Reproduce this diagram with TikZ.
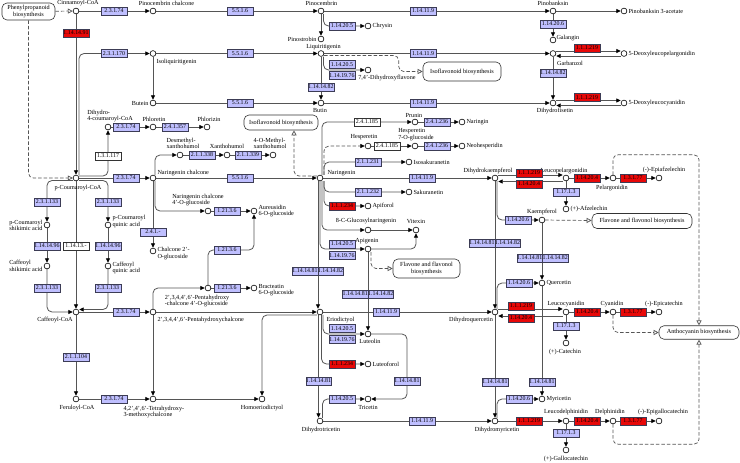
\documentclass[tikz,border=0pt]{standalone}
\usepackage{fontspec}
\setmainfont{Liberation Serif}
\usepackage{tikz}
\usetikzlibrary{arrows.meta,calc,backgrounds}
\definecolor{kgblue}{RGB}{191,191,255}
\definecolor{kgred}{RGB}{232,8,8}
\definecolor{kgline}{RGB}{85,85,85}
\definecolor{kgedge}{RGB}{60,60,85}
\newcommand{\cpdfont}{\fontsize{6.2}{6.6}\selectfont}
\newcommand{\ecfont}{\fontsize{5.9}{6}\selectfont}

\begin{document}
\begin{tikzpicture}[x=1pt,y=-1pt,font=\cpdfont,
    cpd/.style={circle,draw=black,fill=white,line width=0.6pt,inner sep=0pt,minimum size=5.8pt},
    ec/.style={rectangle,draw=kgedge,fill=kgblue,line width=0.5pt,minimum width=25.5pt,minimum height=8pt,inner sep=0pt,font=\ecfont},
    ecr/.style={ec,fill=kgred,text=black},
    ecw/.style={ec,fill=white,draw=black!80},
    pmap/.style={rectangle,draw=black!80,fill=white,rounded corners=5pt,line width=0.6pt,inner sep=1pt,align=center},
    txt/.style={inner sep=0.3pt,align=left},
    rx/.style={draw=kgline,line width=0.8pt,rounded corners=5pt,-{Triangle[length=4.5pt,width=4pt,color=black]}},
    lnk/.style={draw=kgline,line width=0.7pt,rounded corners=5pt,dash pattern=on 3.5pt off 2pt,-{Triangle[open,length=5pt,width=5pt,fill=white,color=kgline]}},
    lnkf/.style={lnk,-{Triangle[length=4.5pt,width=4pt,color=black]}}]
    \useasboundingbox (0,0) rectangle (740,463);

    \node[pmap,minimum width=53pt,minimum height=17pt] (phe) at (28.5,11.5) {Phenylpropanoid\\biosynthesis};
    \node[pmap,minimum width=78pt,minimum height=19pt] (iso1) at (462,71.5) {Isoflavonoid biosynthesis};
    \node[pmap,minimum width=74pt,minimum height=15pt] (iso2) at (281,122.5) {Isoflavonoid biosynthesis};
    \node[pmap,minimum width=67pt,minimum height=19pt] (fla1) at (426.5,268.5) {Flavone and flavonol\\biosynthesis};
    \node[pmap,minimum width=100pt,minimum height=15pt] (fla2) at (642,221) {Flavone and flavonol biosynthesis};
    \node[pmap,minimum width=80pt,minimum height=13.5pt] (antho) at (699,332.5) {Anthocyanin biosynthesis};

    \node[cpd] (cinn) at (76,11) {};
    \node[cpd] (pcc) at (153,11) {};
    \node[cpd] (pinoc) at (321,11) {};
    \node[cpd] (pinob) at (553,11) {};
    \node[cpd] (pinob3a) at (624,11) {};
    \node[cpd] (galangin) at (553,40) {};
    \node[cpd] (chrysin) at (368,26) {};
    \node[cpd] (pinost) at (321,39) {};
    \node[cpd] (isoliq) at (153,53.5) {};
    \node[cpd] (liq) at (321,53.5) {};
    \node[cpd] (garb) at (553,53.5) {};
    \node[cpd] (dlp) at (624,53.5) {};
    \node[cpd] (dhf74) at (368,70) {};
    \node[cpd] (butein) at (153,103) {};
    \node[cpd] (butin) at (321,103) {};
    \node[cpd] (dhfis) at (553,103) {};
    \node[cpd] (dlc) at (624,103) {};
    \node[cpd] (dh4c) at (108,127) {};
    \node[cpd] (phloretin) at (153,127) {};
    \node[cpd] (phlorizin) at (207,127) {};
    \node[cpd] (desm) at (180,155) {};
    \node[cpd] (xanth) at (227,155) {};
    \node[cpd] (mxanth) at (273,155) {};
    \node[cpd] (pcoa) at (76,178) {};
    \node[cpd] (ngc) at (153,178) {};
    \node[cpd] (ng) at (320,178) {};
    \node[cpd] (ngc4g) at (208,211) {};
    \node[cpd] (aure) at (254,211) {};
    \node[cpd] (ch2g) at (153,251) {};
    \node[cpd] (pcsa) at (47,225) {};
    \node[cpd] (pcqa) at (108,225) {};
    \node[cpd] (cfsa) at (47,266) {};
    \node[cpd] (cfqa) at (108,266) {};
    \node[cpd] (pentg) at (208,288) {};
    \node[cpd] (bract) at (254,288) {};
    \node[cpd] (cfcoa) at (76,312) {};
    \node[cpd] (pent) at (153,312) {};
    \node[cpd] (erio) at (320,312) {};
    \node[cpd] (fercoa) at (76,399) {};
    \node[cpd] (tetra) at (153,399) {};
    \node[cpd] (homo) at (262,399) {};
    \node[cpd] (prunin) at (415,122) {};
    \node[cpd] (naringin) at (462,122) {};
    \node[cpd] (hesp) at (368,146) {};
    \node[cpd] (hesp7) at (415,146) {};
    \node[cpd] (neohesp) at (462,146) {};
    \node[cpd] (isosak) at (409,162) {};
    \node[cpd] (dhk) at (495,178) {};
    \node[cpd] (sakur) at (409,192) {};
    \node[cpd] (apif) at (368,206) {};
    \node[cpd] (cgn) at (368,230) {};
    \node[cpd] (vitexin) at (416,230) {};
    \node[cpd] (apig) at (368,249) {};
    \node[cpd] (lut) at (368,334) {};
    \node[cpd] (luteof) at (368,364) {};
    \node[cpd] (tric) at (368,399) {};
    \node[cpd] (dhtric) at (320,421) {};
    \node[cpd] (dhq) at (495,312) {};
    \node[cpd] (dhm) at (495,421) {};
    \node[cpd] (lpg) at (566,178) {};
    \node[cpd] (pelarg) at (613,178) {};
    \node[cpd] (epiaf) at (659,178) {};
    \node[cpd] (afz) at (566,209) {};
    \node[cpd] (kaemp) at (542,220) {};
    \node[cpd] (querc) at (542,283) {};
    \node[cpd] (myr) at (542,399) {};
    \node[cpd] (lcy) at (566,312) {};
    \node[cpd] (cyan) at (613,312) {};
    \node[cpd] (epicat) at (659,312) {};
    \node[cpd] (cat) at (566,343) {};
    \node[cpd] (ldp) at (566,421) {};
    \node[cpd] (delph) at (613,421) {};
    \node[cpd] (epigal) at (659,421) {};
    \node[cpd] (gal) at (566,450) {};

    \node[txt] (t-cinn) at (78,3.5) {Cinnamoyl-CoA};
    \node[txt] (t-pcc) at (166.5,3.5) {Pinocembrin chalcone};
    \node[txt] (t-pinoc) at (321.5,3.5) {Pinocembrin};
    \node[txt] (t-pinob) at (553,3.5) {Pinobanksin};
    \node[txt,anchor=west] (t-pinob3a) at (628,11) {Pinobanksin 3-acetate};
    \node[txt,anchor=west] (t-galangin) at (556,38.5) {Galangin};
    \node[txt,anchor=west] (t-chrysin) at (372,26) {Chrysin};
    \node[txt,anchor=east] (t-pinost) at (317,39) {Pinostrobin};
    \node[txt] (t-isoliq) at (176.5,62) {Isoliquiritigenin};
    \node[txt] (t-liq) at (323.5,47.5) {Liquiritigenin};
    \node[txt] (t-garb) at (570,63) {Garbanzol};
    \node[txt,anchor=west] (t-dlp) at (628,54) {5-Deoxyleucopelargonidin};
    \node[txt] (t-dhf74) at (387,77.5) {7,4'-Dihydroxyflavone};
    \node[txt,anchor=east] (t-butein) at (149,103) {Butein};
    \node[txt] (t-butin) at (320,110.5) {Butin};
    \node[txt] (t-dhfis) at (555,110.5) {Dihydrofisetin};
    \node[txt,anchor=west] (t-dlc) at (628,103) {5-Deoxyleucocyanidin};
    \node[txt] (t-dh4c) at (110,116) {Dihydro-\\4-coumaroyl-CoA};
    \node[txt] (t-phloretin) at (154,119.5) {Phloretin};
    \node[txt] (t-phlorizin) at (209,119.5) {Phlorizin};
    \node[txt] (t-desm) at (183,143.5) {Desmethyl-\\xanthohumol};
    \node[txt] (t-xanth) at (227,146.5) {Xanthohumol};
    \node[txt] (t-mxanth) at (270,143.5) {4-O-Methyl-\\xanthohumol};
    \node[txt] (t-pcoa) at (78,188) {p-Coumaroyl-CoA};
    \node[txt,anchor=west] (t-ngc) at (157,173) {Naringenin chalcone};
    \node[txt,anchor=west] (t-ng) at (327,173.5) {Naringenin};
    \node[txt] (t-ngc4g) at (198,200) {Naringenin chalcone\\4'-O-glucoside};
    \node[txt,anchor=west] (t-aure) at (258,211) {Aureusidin\\6-O-glucoside};
    \node[txt,anchor=west] (t-ch2g) at (157,253.5) {Chalcone 2'-\\O-glucoside};
    \node[txt,anchor=east] (t-pcsa) at (43,225.5) {p-Coumaroyl\\shikimic acid};
    \node[txt,anchor=west] (t-pcqa) at (112,221.5) {p-Coumaroyl\\quinic acid};
    \node[txt,anchor=east] (t-cfsa) at (43,266) {Caffeoyl\\shikimic acid};
    \node[txt,anchor=west] (t-cfqa) at (112,268) {Caffeoyl\\quinic acid};
    \node[txt] (t-pentg) at (197,301) {2',3,4,4',6'-Pentahydroxy\\-chalcone 4'-O-glucoside};
    \node[txt,anchor=west] (t-bract) at (258,290) {Bracteatin\\6-O-glucoside};
    \node[txt] (t-cfcoa) at (55,320) {Caffeoyl-CoA};
    \node[txt,anchor=west] (t-pent) at (157,320) {2',3,4,4',6'-Pentahydroxychalcone};
    \node[txt,anchor=west] (t-erio) at (326,320) {Eriodictyol};
    \node[txt] (t-fercoa) at (77,408.5) {Feruloyl-CoA};
    \node[txt,anchor=west] (t-tetra) at (123,412) {4,2',4',6'-Tetrahydroxy-\\3-methoxychalcone};
    \node[txt] (t-homo) at (262,408.5) {Homoeriodictyol};
    \node[txt] (t-prunin) at (414,115) {Prunin};
    \node[txt,anchor=west] (t-naringin) at (466,122) {Naringin};
    \node[txt] (t-hesp) at (364,137.5) {Hesperetin};
    \node[txt] (t-hesp7) at (416,134.5) {Hesperetin\\7-O-glucoside};
    \node[txt,anchor=west] (t-neohesp) at (466,146) {Neohesperidin};
    \node[txt,anchor=west] (t-isosak) at (413,162) {Isosakuranetin};
    \node[txt] (t-dhk) at (488,171) {Dihydrokaempferol};
    \node[txt,anchor=west] (t-sakur) at (413,192) {Sakuranetin};
    \node[txt,anchor=west] (t-apif) at (372,206) {Apiforol};
    \node[txt] (t-cgn) at (366,221) {8-C-Glucosylnaringenin};
    \node[txt] (t-vitexin) at (416,221) {Vitexin};
    \node[txt] (t-apig) at (367,241.5) {Apigenin};
    \node[txt] (t-lut) at (370,341.5) {Luteolin};
    \node[txt,anchor=west] (t-luteof) at (372,364) {Luteoforol};
    \node[txt] (t-tric) at (368,407.5) {Tricetin};
    \node[txt] (t-dhtric) at (321,430.5) {Dihydrotricetin};
    \node[txt] (t-dhq) at (471,320) {Dihydroquercetin};
    \node[txt] (t-dhm) at (497,430.5) {Dihydromyricetin};
    \node[txt] (t-lpg) at (564,171) {Leucopelargonidin};
    \node[txt] (t-pelarg) at (612,188) {Pelargonidin};
    \node[txt] (t-epiaf) at (664,170) {(-)-Epiafzelechin};
    \node[txt,anchor=west] (t-afz) at (570,209) {(+)-Afzelechin};
    \node[txt] (t-kaemp) at (542,212) {Kaempferol};
    \node[txt,anchor=west] (t-querc) at (546,283) {Quercetin};
    \node[txt,anchor=west] (t-myr) at (546,399) {Myricetin};
    \node[txt] (t-lcy) at (566,304.5) {Leucocyanidin};
    \node[txt] (t-cyan) at (612,304.5) {Cyanidin};
    \node[txt] (t-epicat) at (664,304.5) {(-)-Epicatechin};
    \node[txt] (t-cat) at (565,352.5) {(+)-Catechin};
    \node[txt] (t-ldp) at (566,412.5) {Leucodelphinidin};
    \node[txt] (t-delph) at (610,412.5) {Delphinidin};
    \node[txt] (t-epigal) at (663,412.5) {(-)-Epigallocatechin};
    \node[txt] (t-gal) at (566,459) {(+)-Gallocatechin};

    \node[ecr] (e1) at (76,33) {1.14.14.91};
    \node[ec] (e2) at (114,11) {2.3.1.74};
    \node[ec] (e3) at (240,11) {5.5.1.6};
    \node[ec] (e4) at (423,11) {1.14.11.9};
    \node[ec] (e5) at (553,24) {1.14.20.6};
    \node[ec] (e6) at (342,26) {1.14.20.5};
    \node[ec] (e7) at (114,53.5) {2.3.1.170};
    \node[ec] (e8) at (240,53.5) {5.5.1.6};
    \node[ec] (e9) at (423,53.5) {1.14.11.9};
    \node[ec] (e10) at (342,64.5) {1.14.20.5};
    \node[ec] (e11) at (342,75.5) {1.14.19.76};
    \node[ec] (e12) at (321,87) {1.14.14.82};
    \node[ec] (e13) at (553,73) {1.14.14.82};
    \node[ecr] (e14) at (587,48) {1.1.1.219};
    \node[ec] (e15) at (240,103) {5.5.1.6};
    \node[ec] (e16) at (423,103) {1.14.11.9};
    \node[ecr] (e17) at (587,97.5) {1.1.1.219};
    \node[ec] (e18) at (126,127) {2.3.1.74};
    \node[ec] (e19) at (175,127) {2.4.1.357};
    \node[ecw] (e20) at (108,156) {1.3.1.117};
    \node[ec] (e21) at (202,155) {2.1.1.338};
    \node[ec] (e22) at (248,155) {2.1.1.339};
    \node[ec] (e23) at (126,178) {2.3.1.74};
    \node[ec] (e24) at (240,178) {5.5.1.6};
    \node[ec] (e25) at (47,202) {2.3.1.133};
    \node[ec] (e26) at (108,202) {2.3.1.133};
    \node[ec] (e27) at (47,246) {1.14.14.96};
    \node[ecw] (e28) at (76,246) {1.14.13.-};
    \node[ec] (e29) at (108,246) {1.14.14.96};
    \node[ec] (e30) at (47,288) {2.3.1.133};
    \node[ec] (e31) at (108,288) {2.3.1.133};
    \node[ec] (e32) at (227,211) {1.21.3.6};
    \node[ec] (e33) at (153,232) {2.4.1.-};
    \node[ec] (e34) at (227,250) {1.21.3.6};
    \node[ec] (e35) at (227,288) {1.21.3.6};
    \node[ec] (e36) at (126,312) {2.3.1.74};
    \node[ec] (e37) at (76,357) {2.1.1.104};
    \node[ec] (e38) at (114,399) {2.3.1.74};
    \node[ecw] (e39) at (367,122) {2.4.1.185};
    \node[ec] (e40) at (437,122) {2.4.1.236};
    \node[ecw] (e41) at (387,146) {2.4.1.185};
    \node[ec] (e42) at (437,146) {2.4.1.236};
    \node[ec] (e43) at (368,162) {2.1.1.231};
    \node[ec] (e44) at (422,178) {1.14.11.9};
    \node[ec] (e45) at (368,192) {2.1.1.232};
    \node[ecr] (e46) at (342,206) {1.1.1.234};
    \node[ec] (e47) at (342,244) {1.14.20.5};
    \node[ec] (e48) at (342,255.5) {1.14.19.76};
    \node[ec] (e49) at (305,271) {1.14.14.81};
    \node[ec] (e50) at (330.5,271) {1.14.14.82};
    \node[ec] (e51) at (355.25,294) {1.14.14.81};
    \node[ec] (e52) at (380.75,294) {1.14.14.82};
    \node[ec] (e53) at (482,243) {1.14.14.81};
    \node[ec] (e54) at (507.5,243) {1.14.14.82};
    \node[ec] (e55) at (386,312) {1.14.11.9};
    \node[ec] (e56) at (342,328.5) {1.14.20.5};
    \node[ec] (e57) at (342,339.5) {1.14.19.76};
    \node[ecr] (e58) at (342,364) {1.1.1.234};
    \node[ec] (e59) at (407,381) {1.14.14.81};
    \node[ec] (e60) at (318.5,381) {1.14.14.81};
    \node[ec] (e61) at (342,399) {1.14.20.5};
    \node[ec] (e62) at (422,421) {1.14.11.9};
    \node[ecr] (e63) at (529,173) {1.1.1.219};
    \node[ecr] (e64) at (529,184) {1.14.20.4};
    \node[ecr] (e65) at (587,178) {1.14.20.4};
    \node[ecr] (e66) at (633,178) {1.3.1.77};
    \node[ec] (e67) at (566,192) {1.17.1.3};
    \node[ec] (e68) at (518,220) {1.14.20.6};
    \node[ec] (e69) at (529.75,258) {1.14.14.81};
    \node[ec] (e70) at (555.25,258) {1.14.14.82};
    \node[ec] (e71) at (519,283) {1.14.20.6};
    \node[ecr] (e72) at (521,306) {1.1.1.219};
    \node[ecr] (e73) at (521,318) {1.14.20.4};
    \node[ecr] (e74) at (587,312) {1.14.20.4};
    \node[ecr] (e75) at (633,312) {1.3.1.77};
    \node[ec] (e76) at (566,326) {1.17.1.3};
    \node[ec] (e77) at (495,382) {1.14.14.81};
    \node[ec] (e78) at (542,382) {1.14.14.81};
    \node[ec] (e79) at (519,399) {1.14.20.6};
    \node[ecr] (e80) at (529,421) {1.1.1.219};
    \node[ecr] (e81) at (587,421) {1.14.20.4};
    \node[ecr] (e82) at (633,421) {1.3.1.77};
    \node[ec] (e83) at (566,433) {1.17.1.3};

    \begin{scope}[on background layer]
    \fill[white] (0,0) rectangle (740,463);
    \draw[lnk] (phe) -- (cinn);
    \draw[lnk] (phe.south) |- (pcoa);
    \draw[lnk] ([yshift=-2pt]liq.east) -| ($(iso1.west)+(-24,0)$) -- (iso1.west);
    \draw[lnk] ([yshift=2pt]ng.west) -| ([xshift=13pt]iso2.south);
    \draw[lnk] ([xshift=3pt]apig.south) |- (fla1);
    \draw[lnk] (kaemp) -- (fla2);
    \draw[lnk] (pelarg.north) -- ++(0,-20) -| (antho.north);
    \draw[lnk] (cyan.south) |- (antho);
    \draw[lnk] (delph.south) -- ++(0,20) -| (antho.south);
    \draw[lnkf] ([xshift=4pt]ng.north) |- (hesp);

    \draw[rx] (cinn) -- (pcc);
    \draw[rx] (cinn) -- (pcoa);
    \draw[rx] (pcc) -- (pinoc);
    \draw[rx] (pinoc) -- (pinob);
    \draw[rx] (pinob) -- (pinob3a);
    \draw[rx] (pinob) -- (galangin);
    \draw[rx] ([xshift=2.5pt]pinoc.south) |- (chrysin);
    \draw[rx] (pinoc) -- (pinost);
    \draw[rx] ([xshift=3pt]pcoa.north) |- (isoliq);
    \draw[rx] (isoliq) -- (liq);
    \draw[rx] (liq) -- (garb);
    \draw[rx] (isoliq) -- (butein);
    \draw[rx] ([xshift=2.5pt]liq.south) |- (dhf74);
    \draw[rx] (liq) -- (butin);
    \draw[rx] ([yshift=2.5pt]garb.east) -- ([yshift=2.5pt]dlp.west);
    \draw[rx] ([yshift=-2.5pt]dlp.west) -- ([yshift=-2.5pt]garb.east);
    \draw[rx] (garb) -- (dhfis);
    \draw[rx] (butein) -- (butin);
    \draw[rx] (butin) -- (dhfis);
    \draw[rx] ([yshift=2.5pt]dhfis.east) -- ([yshift=2.5pt]dlc.west);
    \draw[rx] ([yshift=-2.5pt]dlc.west) -- ([yshift=-2.5pt]dhfis.east);
    \draw[rx] ([yshift=2pt]pcoa.east) -| (dh4c);
    \draw[rx] (dh4c) -- (phloretin);
    \draw[rx] (phloretin) -- (phlorizin);
    \draw[rx] (pcoa) -- (ngc);
    \draw[rx] (ngc) -- (ng);
    \draw[rx] ([xshift=2pt]ngc.north) |- (desm);
    \draw[rx] (desm) -- (xanth);
    \draw[rx] (xanth) -- (mxanth);
    \draw[rx] ([xshift=2pt]ngc.south) |- (ngc4g);
    \draw[rx] (ngc4g) -- (aure);
    \draw[rx] (ngc) -- (ch2g);
    \draw[rx] ([yshift=-2.5pt]pcoa.west) -| (pcsa);
    \draw[rx] (pcsa) -- (cfsa);
    \draw[rx] (cfsa) |- (cfcoa);
    \draw[rx] ([yshift=-2.5pt]pcoa.east) -| (pcqa);
    \draw[rx] (pcqa) -- (cfqa);
    \draw[rx] (cfqa) |- ([yshift=2.5pt]cfcoa.east);
    \draw[rx] (pcoa) -- (cfcoa);
    \draw[rx] (cfcoa) -- (pent);
    \draw[rx] (cfcoa) -- (fercoa);
    \draw[rx] (fercoa) -- (tetra);
    \draw[rx] (pent) -- (tetra);
    \draw[rx] (tetra) -- (homo);
    \draw[rx] (pent) |- (pentg);
    \draw[rx] (pentg) -- (bract);
    \draw[rx] (pentg) |- (e34) -| (aure);
    \draw[rx] (pent) -- (erio);

    \draw[rx] ([xshift=2pt]ng.north) |- (prunin);
    \draw[rx] (prunin) -- (naringin);
    \draw[rx] (hesp) -- (hesp7);
    \draw[rx] (hesp7) -- (neohesp);
    \draw[rx] ([xshift=4pt]ng.north) |- (isosak);
    \draw[rx] (ng) -- (dhk);
    \draw[rx] ([xshift=4pt]ng.south) |- (sakur);
    \draw[rx] ([xshift=4pt]ng.south) |- (apif);
    \draw[rx] ([xshift=2pt]ng.south) |- (cgn);
    \draw[rx] (ng.south) |- (apig);
    \draw[rx] ([xshift=-2pt]ng.south) -- ([xshift=-2pt]erio.north);
    \draw[rx] (cgn) -- (vitexin);
    \draw[rx] (apig) -| (vitexin);
    \draw[rx] (apig) -- (lut);
    \draw[rx] (erio) -- (dhq);
    \draw[rx] ([yshift=-3pt]erio.west) -| (homo);
    \draw[rx] ([xshift=3pt]erio.south) |- (lut);
    \draw[rx] ([xshift=1.5pt]erio.south) |- (luteof);
    \draw[rx] ([xshift=-1.5pt]erio.south) -- ([xshift=-1.5pt]dhtric.north);
    \draw[rx] (lut) -| (e59) |- (tric);
    \draw[rx] ([xshift=2.5pt]dhtric.north) |- (tric);
    \draw[rx] (dhtric) -- (dhm);

    \draw[rx] (dhk) -- (dhq);
    \draw[rx] ([xshift=2pt]dhk.south) |- (kaemp);
    \draw[rx] (kaemp) -- (querc);
    \draw[rx] ([xshift=2pt]dhq.north) |- (querc);
    \draw[rx] (dhq) -- (dhm);
    \draw[rx] ([xshift=2pt]dhm.north) |- (myr);
    \draw[rx] (querc) -- (myr);
    \draw[rx] ([yshift=3pt]dhk.east) -- ([yshift=3pt]lpg.west);
    \draw[rx] ([yshift=-3.5pt]lpg.west) -- ([yshift=-3.5pt]dhk.east);
    \draw[rx] (lpg) -- (pelarg);
    \draw[rx] (pelarg) -- (epiaf);
    \draw[rx] (lpg) -- (afz);
    \draw[rx] ([yshift=3pt]dhq.east) -- ([yshift=3pt]lcy.west);
    \draw[rx] ([yshift=-4pt]lcy.west) -- ([yshift=-4pt]dhq.east);
    \draw[rx] (lcy) -- (cyan);
    \draw[rx] (cyan) -- (epicat);
    \draw[rx] (lcy) -- (cat);
    \draw[rx] (dhm) -- (ldp);
    \draw[rx] (ldp) -- (delph);
    \draw[rx] (delph) -- (epigal);
    \draw[rx] (ldp) -- (gal);
    \end{scope}
  \end{tikzpicture}
\end{document}
